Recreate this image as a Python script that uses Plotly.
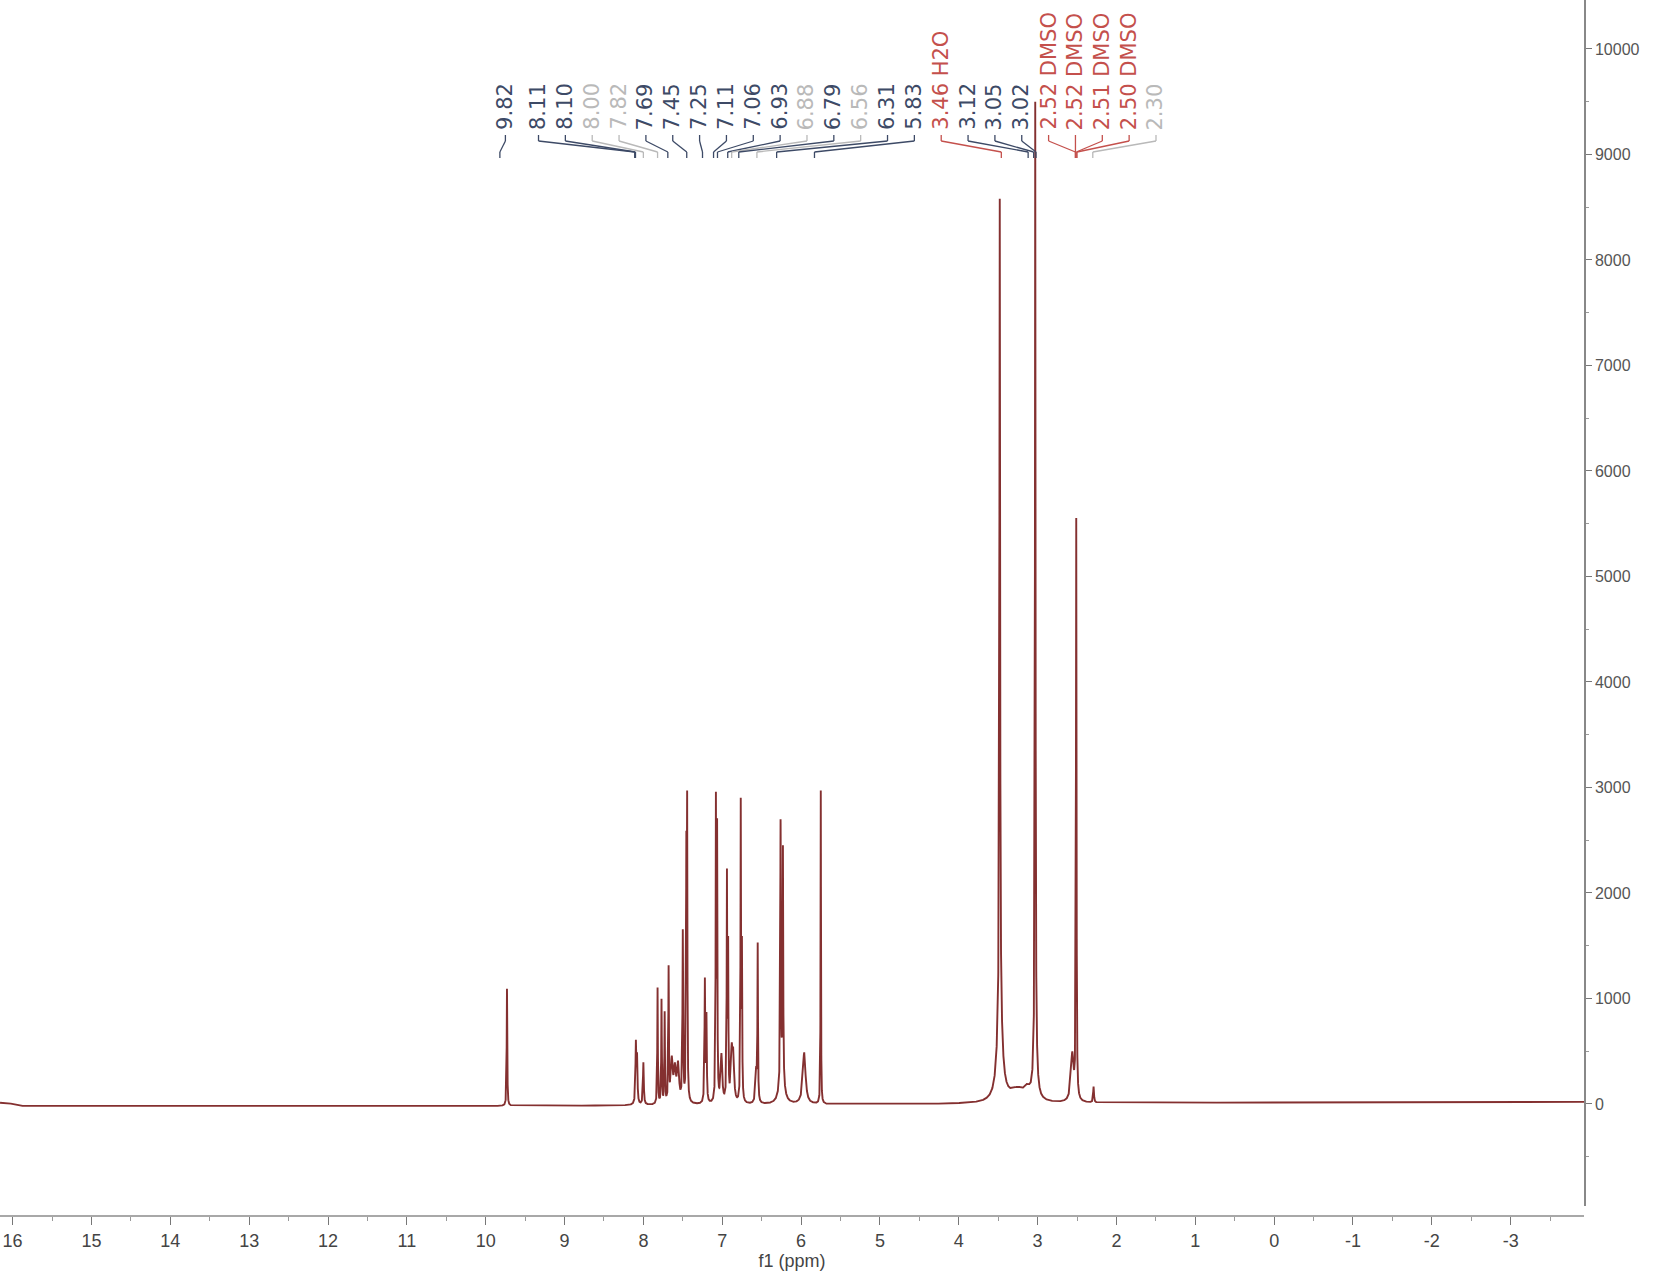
import numpy as np
import plotly.graph_objects as go

# ---------------- data ----------------
# peak list: position (ppm), height (intensity), half width (ppm)
peak_ppm = [9.73, 8.095, 8.08, 8.00, 7.82, 7.77, 7.73, 7.68, 7.64, 7.60, 7.56,
            7.50, 7.455, 7.445, 7.22, 7.20, 7.08, 7.065, 7.01, 6.94, 6.925,
            6.88, 6.86, 6.765, 6.75, 6.57, 6.55, 6.26, 6.23, 6.245, 5.96, 5.75,
            3.48, 3.48, 3.25, 3.13, 3.03, 3.03, 2.56, 2.51, 2.29]
peak_height = [1110, 560, 420, 400, 1100, 980, 850, 1250, 400, 300, 350,
               1600, 2200, 2650, 1150, 800, 2780, 2500, 450, 2100, 1400,
               450, 400, 2800, 1400, 300, 1470, 2400, 2150, 330, 490, 2970,
               7650, 900, 120, 80, 8800, 650, 450, 5480, 150]
peak_hw = [0.004, 0.006, 0.006, 0.006, 0.004, 0.004, 0.004, 0.004, 0.015, 0.015, 0.015,
           0.005, 0.004, 0.004, 0.005, 0.005, 0.004, 0.004, 0.012, 0.004, 0.004,
           0.012, 0.012, 0.004, 0.004, 0.010, 0.004, 0.004, 0.004, 0.030, 0.020, 0.003,
           0.005, 0.035, 0.120, 0.040, 0.004, 0.020, 0.020, 0.004, 0.006]

# baseline drift anchors
base_ppm = [16.16, 15.98, 15.83, 10.0, 4.0, 0.0, -3.93]
base_val = [12, 0, -25, -20, 0, 15, 20]

# peak labels
label_text = ["9.82", "8.11", "8.10", "8.00", "7.82", "7.69", "7.45", "7.25", "7.11",
              "7.06", "6.93", "6.88", "6.79", "6.56", "6.31", "5.83", "3.46 H2O",
              "3.12", "3.05", "3.02", "2.52 DMSO", "2.52 DMSO", "2.51 DMSO",
              "2.50 DMSO", "2.30"]
label_target = [9.82, 8.11, 8.10, 8.00, 7.82, 7.69, 7.45, 7.25, 7.11, 7.06, 6.93,
                6.88, 6.79, 6.56, 6.31, 5.83, 3.46, 3.12, 3.05, 3.02, 2.52, 2.52,
                2.51, 2.50, 2.30]
label_kind = ["b", "b", "b", "g", "g", "b", "b", "b", "b", "b", "b", "g", "b", "g",
              "b", "b", "r", "b", "b", "b", "r", "r", "r", "r", "g"]

x_ticks = [16, 15, 14, 13, 12, 11, 10, 9, 8, 7, 6, 5, 4, 3, 2, 1, 0, -1, -2, -3]
x_tick_text = ["16", "15", "14", "13", "12", "11", "10", "9", "8", "7", "6", "5",
               "4", "3", "2", "1", "0", "-1", "-2", "-3"]
y_ticks = [0, 1000, 2000, 3000, 4000, 5000, 6000, 7000, 8000, 9000, 10000]

# ---------------- build spectrum ----------------
X_MAX, X_MIN = 16.16, -3.93
ppm = np.arange(X_MIN, X_MAX, 0.0005)
inten = np.interp(ppm, base_ppm[::-1], base_val[::-1])
for p, h, w in zip(peak_ppm, peak_height, peak_hw):
    inten = inten + h * w * w / ((ppm - p) ** 2 + w * w)

W, H = 1665, 1283
M_L, M_R, M_T, M_B = 0, 81, 0, 67
PH = H - M_T - M_B  # plot-area height in px


def py(px):  # pixel from top -> paper y
    return 1 - px / PH


fig = go.Figure()
fig.add_trace(go.Scatter(x=ppm, y=inten, mode="lines",
                         line=dict(color="#843030", width=1.9),
                         hoverinfo="skip", showlegend=False))

colors = {"b": "#3d4a66", "g": "#b9b9b9", "r": "#c4504c"}

# label positions laid out evenly across the top
first_x = 9.75
lab_start, lab_step = 9.33, 0.3405
label_x = [first_x] + [lab_start - i * lab_step for i in range(len(label_text) - 1)]

annotations = []
shapes = []
for t, lx, tx, k in zip(label_text, label_x, label_target, label_kind):
    c = colors[k]
    annotations.append(dict(x=lx, xref="x", y=py(132), yref="paper", text=t,
                            textangle=-90, showarrow=False, xanchor="center",
                            yanchor="bottom",
                            font=dict(family="DejaVu Sans", size=21, color=c)))
    for (x0, y0, x1, y1) in [(lx, 135, lx, 141), (lx, 141, tx, 152), (tx, 152, tx, 158)]:
        shapes.append(dict(type="line", xref="x", yref="paper", x0=x0, x1=x1,
                           y0=py(y0), y1=py(y1), line=dict(color=c, width=1.3)))

fig.update_layout(
    width=W, height=H,
    margin=dict(l=M_L, r=M_R, t=M_T, b=M_B, autoexpand=False),
    paper_bgcolor="white", plot_bgcolor="white",
    annotations=annotations, shapes=shapes,
    xaxis=dict(range=[X_MAX, X_MIN], anchor="free", position=0,
               tickvals=x_ticks, ticktext=x_tick_text,
               showgrid=False, zeroline=False, automargin=False,
               showline=True, linecolor="#a8a8a8", linewidth=2,
               ticks="outside", ticklen=8, tickwidth=1, tickcolor="#777",
               minor=dict(dtick=0.5, ticks="outside", ticklen=4, tickcolor="#999"),
               tickfont=dict(family="Liberation Sans", size=18, color="#444"),
               title=dict(text="f1 (ppm)", standoff=4,
                          font=dict(family="Liberation Sans", size=18, color="#444"))),
    yaxis=dict(range=[-967, 10464], domain=[10 / PH, 1], side="right",
               tickvals=y_ticks, tickformat="d", automargin=False,
               showgrid=False, zeroline=False,
               showline=True, linecolor="#888", linewidth=1.5,
               ticks="outside", ticklen=6, tickwidth=1, tickcolor="#777",
               minor=dict(dtick=500, ticks="outside", ticklen=3, tickcolor="#999"),
               tickfont=dict(family="Liberation Sans", size=16, color="#555")),
)

fig.write_html("out.html", config={"displayModeBar": False},
               post_script="document.body.style.margin='0';")
